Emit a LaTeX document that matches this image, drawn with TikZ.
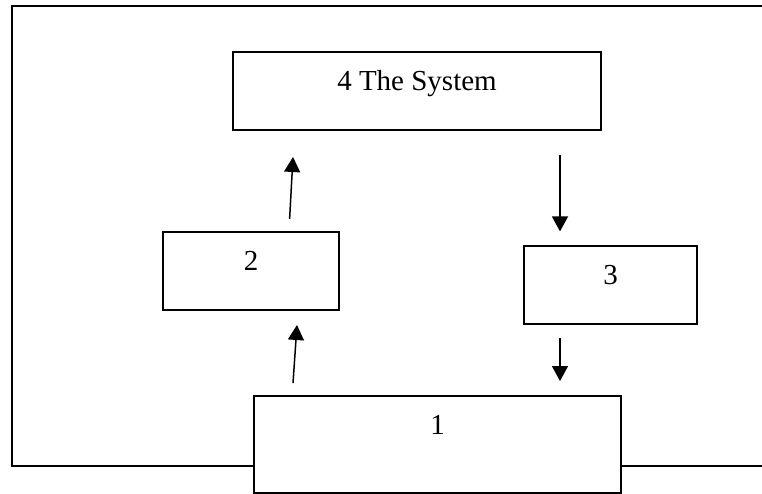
\documentclass[tikz,border=0pt]{standalone}
\usepackage{fontspec}
\setmainfont{Liberation Serif}
\usetikzlibrary{arrows.meta}

\begin{document}
\begin{tikzpicture}[x=1pt, y=-1pt, line width=2pt,
    sysbox/.style={draw, anchor=north west, inner sep=0pt, text height=38pt, text depth=40pt,
      font=\fontsize{29}{34}\selectfont},
    flow/.style={line width=1.5pt, -{Triangle[length=15pt,width=16pt]}}]
  \useasboundingbox (0,0) rectangle (762,493);
  \node[sysbox, minimum width=368pt] (b4) at (232,51) {4 The System};
  \node[sysbox, minimum width=176pt] (b2) at (162,231) {2};
  \node[sysbox, minimum width=173pt] (b3) at (523,245) {3};
  \node[sysbox, minimum width=367pt, text depth=59pt] (b1) at (253,395) {1};
  % open frame round the boxes
  \coordinate (tl) at (12,6);
  \coordinate (tr) at (762,6);
  \coordinate (bl) at (12,466);
  \coordinate (br) at (762,466);
  \draw (tr) -- (tl) -- (bl) -- (bl -| b1.west);
  \draw (b1.east |- br) -- (br);
  % arrows
  \draw[flow] ([xshift=40pt,yshift=12pt]b1.north west) -- ([xshift=135pt,yshift=-14pt]b2.south west);
  \draw[flow] ([xshift=127.6pt,yshift=12pt]b2.north west) -- ([xshift=61pt,yshift=-26pt]b4.south west);
  \draw[flow] ([xshift=328pt,yshift=-24pt]b4.south west) -- ([xshift=37pt,yshift=13.6pt]b3.north west);
  \draw[flow] ([xshift=37pt,yshift=-12.7pt]b3.south west) -- ([xshift=307pt,yshift=14pt]b1.north west);
\end{tikzpicture}
\end{document}
